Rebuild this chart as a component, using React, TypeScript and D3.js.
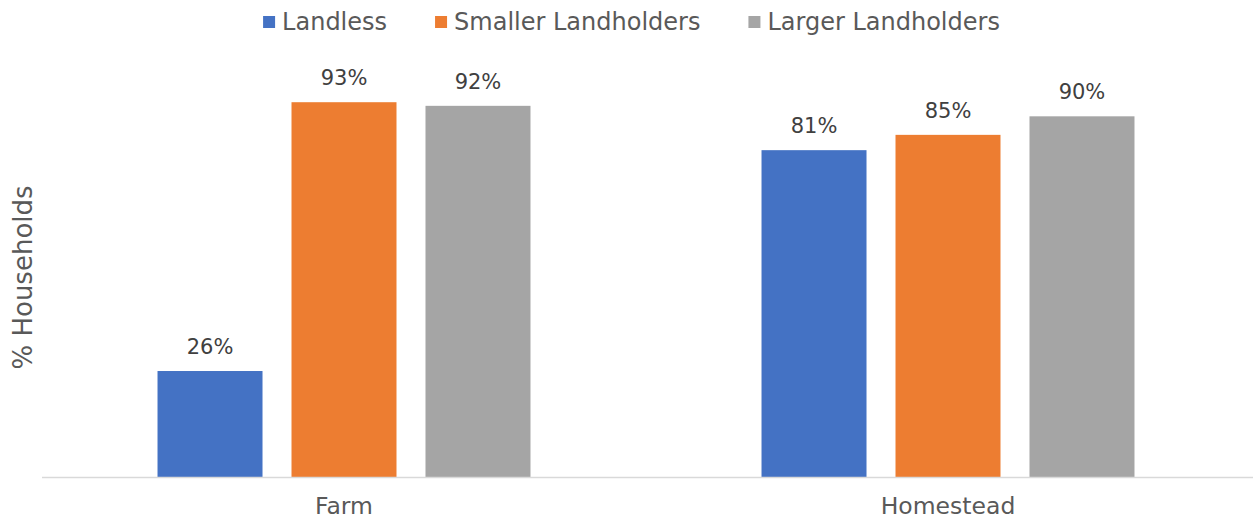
import React, { useEffect, useRef } from "react";
import * as d3 from "d3";

const categories = ["Farm", "Homestead"];
const seriesNames = ["Landless", "Smaller Landholders", "Larger Landholders"];
const landless = [26.3, 81.1];
const smaller = [93.0, 84.9];
const larger = [92.1, 89.5];
const seriesColors = ["#4472C4", "#ED7D31", "#A5A5A5"];
const yDomain = [0, 100];

const W = 1253;
const H = 520;
const FONT = "'DejaVu Sans', sans-serif";

export default function App() {
  const ref = useRef<SVGSVGElement | null>(null);

  useEffect(() => {
    const svg = d3.select(ref.current);
    svg.selectAll("*").remove();
    const values = [landless, smaller, larger];

    const plotLeft = 42;
    const plotRight = 1250;
    const baseY = 477;
    const topY = 74;

    const x0 = d3.scaleBand<string>().domain(categories).range([plotLeft, plotRight]);
    const groupW = x0.bandwidth() * 0.6175;
    const x1 = d3.scaleBand<string>().domain(seriesNames).range([0, groupW]).paddingInner(0.2164);
    const y = d3.scaleLinear().domain(yDomain).range([baseY, topY]);

    const g = svg.append("g");
    categories.forEach((c, ci) => {
      const gx = (x0(c) as number) + (x0.bandwidth() - groupW) / 2;
      seriesNames.forEach((s, si) => {
        const v = values[si][ci];
        const bx = gx + (x1(s) as number);
        g.append("rect")
          .attr("x", bx)
          .attr("y", y(v))
          .attr("width", x1.bandwidth())
          .attr("height", y(0) - y(v))
          .attr("fill", seriesColors[si]);
        g.append("text")
          .attr("x", bx + x1.bandwidth() / 2)
          .attr("y", y(v) - 17)
          .attr("text-anchor", "middle")
          .attr("font-family", FONT)
          .attr("font-size", 21)
          .attr("fill", "#404040")
          .text(Math.round(v) + "%");
      });
      g.append("text")
        .attr("x", (x0(c) as number) + x0.bandwidth() / 2)
        .attr("y", 514)
        .attr("text-anchor", "middle")
        .attr("font-family", FONT)
        .attr("font-size", 23.5)
        .attr("fill", "#595959")
        .text(c);
    });

    svg.append("line")
      .attr("x1", plotLeft)
      .attr("x2", W)
      .attr("y1", baseY + 0.5)
      .attr("y2", baseY + 0.5)
      .attr("stroke", "#d9d9d9")
      .attr("stroke-width", 1.5);

    svg.append("text")
      .attr("transform", "translate(32,277.5) rotate(-90)")
      .attr("text-anchor", "middle")
      .attr("font-family", FONT)
      .attr("font-size", 26)
      .attr("fill", "#595959")
      .text("% Households");

    // legend
    const lg = svg.append("g");
    const sq = 12;
    const gapSq = 7;
    const gapItem = 48;
    let cx = 0;
    seriesNames.forEach((s, si) => {
      const it = lg.append("g");
      it.append("rect")
        .attr("x", cx)
        .attr("y", 16)
        .attr("width", sq)
        .attr("height", sq)
        .attr("fill", seriesColors[si]);
      const t = it.append("text")
        .attr("x", cx + sq + gapSq)
        .attr("y", 30)
        .attr("font-family", FONT)
        .attr("font-size", 24)
        .attr("fill", "#595959")
        .text(s);
      const len = (t.node() as SVGTextElement).getComputedTextLength();
      cx += sq + gapSq + len + gapItem;
    });
    const total = cx - gapItem;
    lg.attr("transform", `translate(${(268 + 995) / 2 - total / 2},0)`);
  }, []);

  return (
    <svg
      ref={ref}
      width={W}
      height={H}
      style={{ position: "absolute", left: 0, top: 0, background: "#fff" }}
    />
  );
}
